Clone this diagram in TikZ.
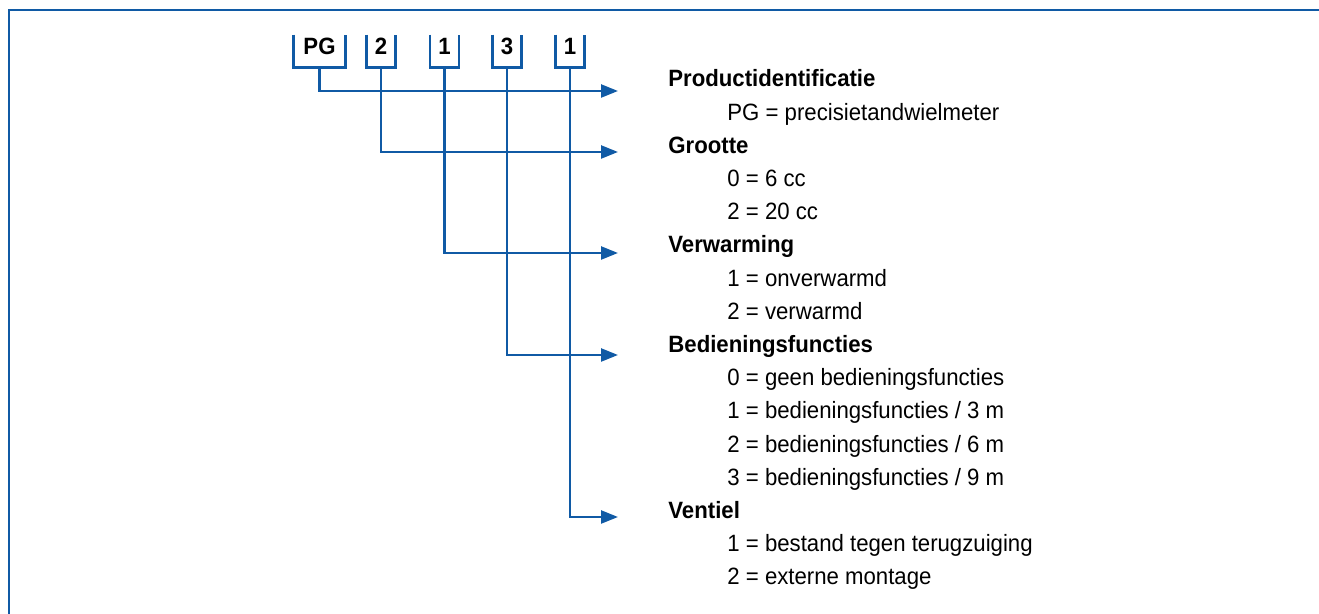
\documentclass[tikz,border=0pt]{standalone}
\usepackage{fontspec}
\setmainfont{Liberation Sans}[FakeStretch=0.94]
\usetikzlibrary{arrows.meta}
\definecolor{codeblue}{RGB}{16,90,165}
\tikzset{
  link/.style={codeblue, line width=1.2pt, -{Triangle[length=8.5pt,width=6.5pt]}},
  bracket/.style={codeblue, line width=1.2pt},
  codebox/.style={font=\fontsize{11.8}{13}\selectfont\bfseries, inner sep=0pt,
    text height=10pt, text depth=6pt, minimum width=14pt},
  head/.style={anchor=base west, inner sep=0pt, font=\fontsize{11.8}{13}\selectfont\bfseries},
  item/.style={anchor=base west, inner sep=0pt, font=\fontsize{11.8}{13}\selectfont},
}
\begin{document}
\begin{tikzpicture}[x=0.5pt,y=-0.5pt]
\useasboundingbox (0,0) rectangle (1319,614);
\draw[codeblue, line width=1.4pt] (9,614) -- (9,10) -- (1319,10);
% code boxes
\node[codebox, minimum width=25.5pt] (pg) at (319.5,51) {PG};
\node[codebox] (size) at (381,51) {2};
\node[codebox] (heat) at (444.5,51) {1};
\node[codebox] (ctrl) at (507,51) {3};
\node[codebox] (valve) at (570,51) {1};
\foreach \b in {pg,size,heat,ctrl,valve}
  \draw[bracket] (\b.north west) |- (\b.south east) -- (\b.north east);
% arrow ends
\coordinate (t1) at (618,91);
\coordinate (t2) at (618,152);
\coordinate (t3) at (618,253);
\coordinate (t4) at (618,355);
\coordinate (t5) at (618,517);
\draw[link] (pg.south) |- (t1);
\draw[link] (size.south) |- (t2);
\draw[link] (heat.south) |- (t3);
\draw[link] (ctrl.south) |- (t4);
\draw[link] (valve.south) |- (t5);
% legend
\node[head] (h1) at (668,87) {Productidentificatie};
\node[item] (i11) at (727,120.2) {PG = precisietandwielmeter};
\node[head] (h2) at (668,153.4) {Grootte};
\node[item] (i21) at (727,186.6) {0 = 6 cc};
\node[item] (i22) at (727,219.8) {2 = 20 cc};
\node[head] (h3) at (668,253) {Verwarming};
\node[item] (i31) at (727,286.2) {1 = onverwarmd};
\node[item] (i32) at (727,319.4) {2 = verwarmd};
\node[head] (h4) at (668,352.6) {Bedieningsfuncties};
\node[item] (i41) at (727,385.8) {0 = geen bedieningsfuncties};
\node[item] (i42) at (727,419) {1 = bedieningsfuncties / 3 m};
\node[item] (i43) at (727,452.2) {2 = bedieningsfuncties / 6 m};
\node[item] (i44) at (727,485.4) {3 = bedieningsfuncties / 9 m};
\node[head] (h5) at (668,518.6) {Ventiel};
\node[item] (i51) at (727,551.8) {1 = bestand tegen terugzuiging};
\node[item] (i52) at (727,585) {2 = externe montage};
\end{tikzpicture}
\end{document}
